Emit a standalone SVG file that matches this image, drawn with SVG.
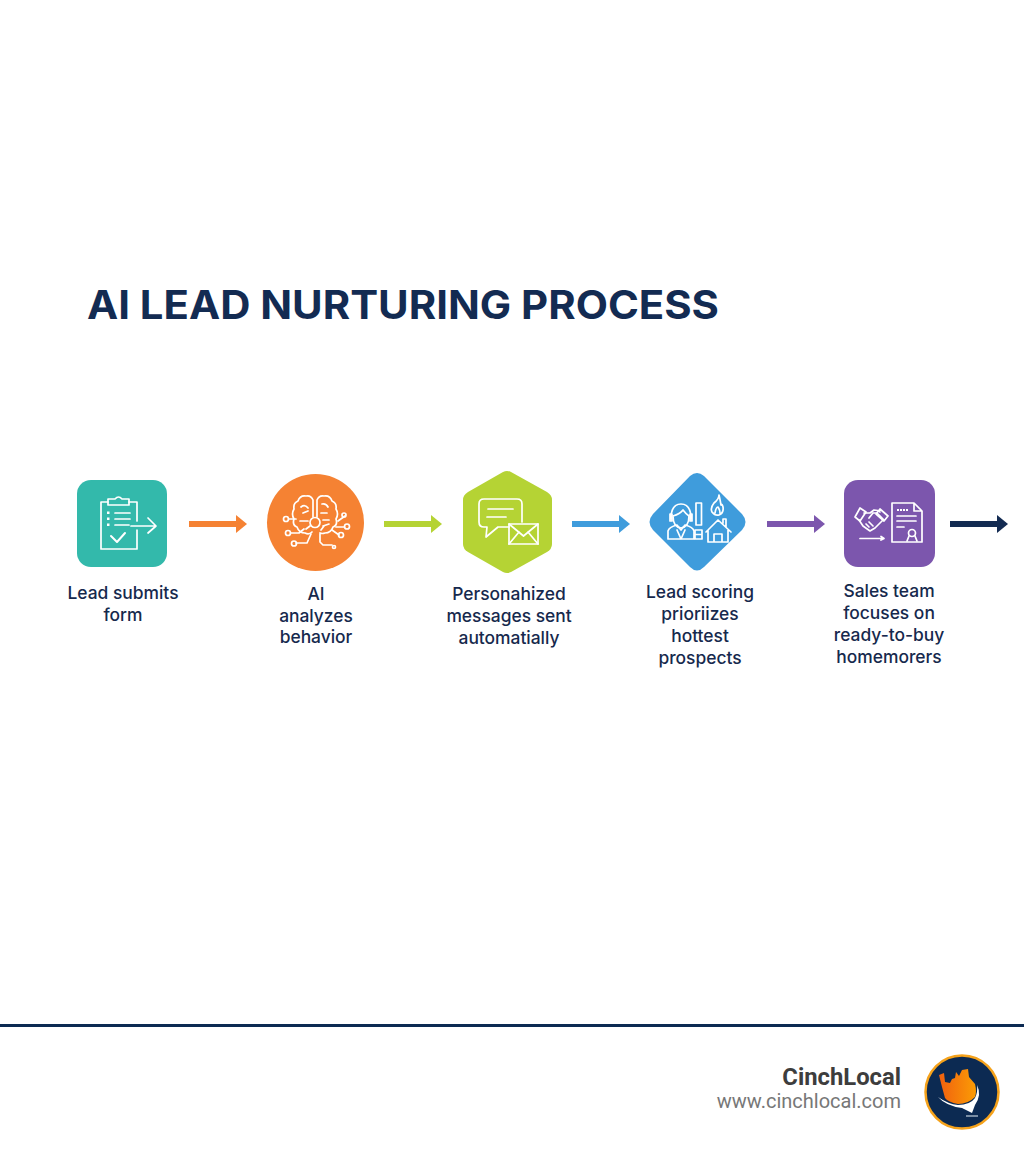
<svg xmlns="http://www.w3.org/2000/svg" width="1024" height="1154" viewBox="0 0 1024 1154">
<defs>
<linearGradient id="flame" x1="0" y1="0" x2="1" y2="0"><stop offset="0" stop-color="#f0600f"/><stop offset="1" stop-color="#fb9c05"/></linearGradient>
<marker id="ao" markerUnits="userSpaceOnUse" markerWidth="11" markerHeight="18" refX="0" refY="9" orient="auto"><path d="M0 0L11 9L0 18Z" fill="#f58233"/></marker>
<marker id="ag" markerUnits="userSpaceOnUse" markerWidth="11" markerHeight="18" refX="0" refY="9" orient="auto"><path d="M0 0L11 9L0 18Z" fill="#b5d334"/></marker>
<marker id="ab" markerUnits="userSpaceOnUse" markerWidth="11" markerHeight="18" refX="0" refY="9" orient="auto"><path d="M0 0L11 9L0 18Z" fill="#3f9cdc"/></marker>
<marker id="ap" markerUnits="userSpaceOnUse" markerWidth="11" markerHeight="18" refX="0" refY="9" orient="auto"><path d="M0 0L11 9L0 18Z" fill="#7c56ad"/></marker>
<marker id="an" markerUnits="userSpaceOnUse" markerWidth="11" markerHeight="18" refX="0" refY="9" orient="auto"><path d="M0 0L11 9L0 18Z" fill="#132b52"/></marker>
</defs>
<style>
text{font-family:"Inter","Noto Sans","Liberation Sans",sans-serif}
.t{font-size:17.4px;font-weight:500;fill:#16294d;text-anchor:middle}
.i{fill:none;stroke:#fff;stroke-width:1.7;stroke-linecap:round;stroke-linejoin:round}
.f{fill:#fff;stroke:none}
.c{fill:none;stroke-width:6}
</style>
<rect width="1024" height="1154" fill="#fff"/>
<text id="title" x="87" y="319" font-size="39" font-weight="700" fill="#132b52" textLength="632" lengthAdjust="spacingAndGlyphs">AI LEAD NURTURING PROCESS</text>

<g id="connectors">
<path class="c" stroke="#f58233" d="M189 524H236" marker-end="url(#ao)"/>
<path class="c" stroke="#b5d334" d="M384 524H431" marker-end="url(#ag)"/>
<path class="c" stroke="#3f9cdc" d="M572 524H619" marker-end="url(#ab)"/>
<path class="c" stroke="#7c56ad" d="M767 524H814" marker-end="url(#ap)"/>
<path class="c" stroke="#132b52" d="M950 524H997" marker-end="url(#an)"/>
</g>

<g id="node-1">
<rect x="77" y="480" width="90" height="87" rx="14" fill="#33b9ab"/>
<path class="i" d="M108 502H101V549H137V530M137 521V502H129"/>
<path class="i" d="M108 505V499H115Q118.500 495 122 499H129V505Z"/>
<path class="i" d="M115 513H130M115 519H130M115 525H129"/>
<path class="f" d="M107 511.500h2.500v2.500h-2.500zM107 517.500h2.500v2.500h-2.500zM107 523.500h2.500v2.500h-2.500z"/>
<path class="i" d="M111 536L117 542L125 533" style="stroke-width:2"/>
<path class="i" d="M131 526H155M148 518L156 526L148 533"/>
<text class="t" x="123" y="599">Lead submits</text>
<text class="t" x="123" y="621">form</text>
</g>

<g id="node-2">
<circle cx="315.500" cy="522.500" r="48.500" fill="#f58233"/>
<path class="i" d="M313 517V500Q311 495 306 496Q300 495 298 501Q293 503 294 509Q291 514 294 519Q292 525 297 527Q299 533 305 533Q309 535 312 532"/>
<path class="i" d="M317 517V500Q319 495 324 496Q330 495 332 501Q337 503 336 509Q339 514 336 519Q338 525 333 527Q331 533 325 533Q322 534 320 533"/>
<circle class="i" cx="315" cy="522.500" r="5"/>
<path class="i" d="M301 507Q305 504 308 508M322 504Q326 503 328 507M303 513L308 511M321 513H327M300 521H308M323 520H329M323 526L329 524M306 529L310 526M321 530L324 526"/>
<path class="i" d="M288.500 519H296M290.500 533H299L304 529M296 543H307L311 534M345 516L338 521M344.500 527H336M339 535L332 530M320 534V542L323 545H332"/>
<g class="i">
<circle cx="286" cy="519" r="2.500"/><circle cx="288" cy="533" r="2.500"/><circle cx="294" cy="543.500" r="2.500"/><circle cx="344" cy="515" r="2"/><circle cx="347" cy="526.500" r="2.500"/><circle cx="341" cy="535" r="2.500"/><circle cx="334" cy="547" r="1.500"/>
</g>
<text class="t" x="316" y="600">AI</text>
<text class="t" x="316" y="622">analyzes</text>
<text class="t" x="316" y="643">behavior</text>
</g>

<g id="node-3">
<path d="M503 472Q507 470 511 472L547 492Q552 495 552 500V544Q552 549 547 552L511 572Q507 574 503 572L468 552Q463 549 463 544V500Q463 495 468 492Z" fill="#b5d334"/>
<path class="i" d="M509 527H498L486 537L487 527H484Q479 527 479 522V504Q479 499 484 499H517Q522 499 522 504V522"/>
<path class="i" d="M488 509H513M487 517H506"/>
<rect class="i" x="509" y="524" width="29" height="20"/>
<path class="i" d="M509 524L523.500 536L538 524M509 544L519 532M538 544L528 532"/>
<text class="t" x="509" y="600">Personahized</text>
<text class="t" x="509" y="622">messages sent</text>
<text class="t" x="509" y="644">automatially</text>
</g>

<g id="node-4">
<path d="M690 476Q697 470 704 476L742 514Q749 522 742 530L704 567Q697 574 690 567L653 530Q646 522 653 514Z" fill="#3f9cdc"/>
<path class="i" d="M671 519Q671 504 681 504Q691 504 691 519M670 514H672V521H670ZM690 514H692V521H690Z"/>
<path class="i" d="M673 516Q680 514 683 510Q686 514 689 516Q689 527 681 528Q673 527 673 516Z"/>
<path class="i" d="M668 539V531Q669 527 677 525L681 530L685 525Q693 527 694 531V539ZM677 530L681 539L685 530"/>
<path class="i" d="M696 503h5.500v22h-5.500z"/>
<path class="i" d="M695 530h7v9h-7zM695 534.500h7"/>
<path class="i" d="M719 495Q719 499 714 503Q710 508 712 512Q715 516 719 515Q724 513 723 507Q722 503 721 505Q720 499 719 495ZM715 513Q716 507 718 507Q720 510 720 513"/>
<path class="i" d="M706 532L718 520L731 532M708 530V542H728V530M714 542V534H722V542M723 523V519H726V527"/>
<text class="t" x="700" y="598">Lead scoring</text>
<text class="t" x="700" y="620">prioriizes</text>
<text class="t" x="700" y="642">hottest</text>
<text class="t" x="700" y="664">prospects</text>
</g>

<g id="node-5">
<rect x="844" y="480" width="91" height="87" rx="14" fill="#7c56ad"/>
<path class="i" d="M860 508L855 517L860 521L866 512ZM880 509L888 516L884 521L876 514Z"/>
<path class="i" d="M864 513H870L874 510Q878 510 880 512M883 520L875 528L870 531L863 526L859 520M869 518L873 513H877L884 520M866 524L869 527M869 522L873 526"/>
<path class="i" d="M860 538.500H883M881 536.500L884 538.500L881 540"/>
<path class="i" d="M892 503H914L922 511V542H892ZM914 503V511H922"/>
<path class="i" d="M897 510H908" stroke-dasharray="2 1" style="stroke-width:2;stroke-linecap:butt"/>
<path class="i" d="M897 516H916M897 521H916M897 527H904"/>
<circle class="i" cx="912" cy="533" r="3.500"/>
<path class="i" d="M909 536L907 541M915 536L917 541"/>
<text class="t" x="889" y="597">Sales team</text>
<text class="t" x="889" y="619">focuses on</text>
<text class="t" x="889" y="641">ready-to-buy</text>
<text class="t" x="889" y="663">homemorers</text>
</g>

<rect id="footer-rule" x="0" y="1024" width="1024" height="3" fill="#0c2a52"/>
<g id="brand">
<text x="901" y="1085" font-size="23.800" font-weight="700" fill="#3d3d3d" text-anchor="end" style="font-family:Roboto,'Liberation Sans',sans-serif">CinchLocal</text>
<text x="901" y="1108" font-size="20" fill="#777" text-anchor="end" style="font-family:Roboto,'Liberation Sans',sans-serif">www.cinchlocal.com</text>
<circle cx="962" cy="1092" r="36.500" fill="#0c2a52" stroke="#f5a21b" stroke-width="2.500"/>
<path d="M939 1075L944 1073L945 1082L950 1083L952 1079L955 1078L956 1072L959 1076L962 1070L968 1069L969 1077L975 1084Q977 1092 975 1097Q968 1104 958 1104Q948 1102 945 1098L942 1087Z" fill="url(#flame)"/>
<path d="M977 1085Q982 1095 975 1105L972 1113L962 1108Q946 1106 938 1097Q948 1104 958 1105Q970 1105 975 1098Q978 1092 977 1085Z" fill="#fff"/>
<path d="M966 1116H978" stroke="#c5d0dc" stroke-width="1.200"/>
</g>
</svg>
